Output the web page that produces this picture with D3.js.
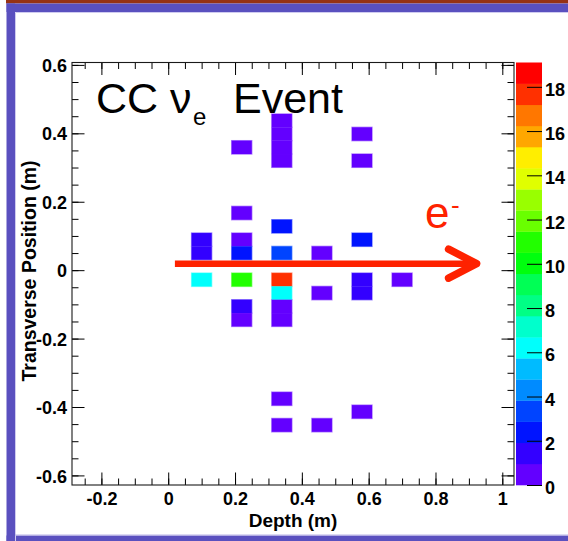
<!DOCTYPE html>
<html><head><meta charset="utf-8">
<script src="https://cdn.jsdelivr.net/npm/d3@7"></script>
<style>
body{margin:0;background:#fff}
svg{display:block}
text{font-family:"Liberation Sans",Arial,Helvetica,sans-serif}
</style>
</head><body>
<svg id="chart" width="568" height="541"></svg>
<script>
// ---- data ----
const depth      = [0.10, 0.10, 0.10,
                    0.22, 0.22, 0.22, 0.22, 0.22, 0.22, 0.22,
                    0.34, 0.34, 0.34, 0.34, 0.34, 0.34, 0.34, 0.34, 0.34, 0.34, 0.34, 0.34,
                    0.46, 0.46, 0.46,
                    0.58, 0.58, 0.58, 0.58, 0.58, 0.58,
                    0.70];
const transverse = [0.089, 0.050, -0.028,
                    0.359, 0.167, 0.089, 0.050, -0.028, -0.106, -0.145,
                    0.437, 0.398, 0.359, 0.320, 0.128, 0.050, -0.028, -0.067, -0.106, -0.145, -0.376, -0.453,
                    0.050, -0.067, -0.453,
                    0.398, 0.320, 0.089, -0.028, -0.067, -0.414,
                    -0.028];
const charge     = [1.5, 1.5, 6.2,
                    0.7, 0.7, 0.7, 2.4, 11.0, 1.5, 0.7,
                    0.7, 0.7, 0.7, 0.7, 2.4, 3.3, 17.9, 6.2, 0.7, 0.7, 0.7, 0.7,
                    0.7, 0.7, 0.7,
                    0.7, 0.7, 2.4, 1.5, 1.5, 0.7,
                    0.7];
const binWidth = 0.06;   // plane pitch (m)
const binHeight = 0.039; // strip pitch (m)

const xMajor = [-0.2, 0, 0.2, 0.4, 0.6, 0.8, 1];
const xLabels = ["-0.2", "0", "0.2", "0.4", "0.6", "0.8", "1"];
const yMajor = [-0.6, -0.4, -0.2, 0, 0.2, 0.4, 0.6];
const yLabels = ["-0.6", "-0.4", "-0.2", "0", "0.2", "0.4", "0.6"];
const zMajor = [0, 2, 4, 6, 8, 10, 12, 14, 16, 18];
const xMinor = d3.range(-25, 101, 5).map(v => v / 100);
const yMinor = d3.range(-60, 61, 5).map(v => v / 100);
const zMax = 19.1;
const nContours = 20;

// arrow annotation (data coords)
const arrowFrom = [0.02, 0.019];
const arrowTo   = [0.935, 0.019];

// ROOT "pretty" palette, 20 contours
const palette = ["#6300ff","#3300ff","#0014ff","#0044ff","#008bff","#00bbff","#00fffc","#00ffcc",
                 "#00ff85","#00ff55","#00ff0e","#22ff00","#69ff00","#99ff00","#e0ff00","#ffee00",
                 "#ffa700","#ff7700","#ff3000","#ff0000"];

const svg = d3.select("#chart");

// ---- page decoration ----
svg.append("rect").attr("x", 6).attr("y", 0).attr("width", 562).attr("height", 3.5).attr("fill", "#963214");
svg.append("rect").attr("x", 6.5).attr("y", 3.5).attr("width", 562).attr("height", 8.5).attr("fill", "#5a50bf");
svg.append("rect").attr("x", 6.5).attr("y", 3.5).attr("width", 8.5).attr("height", 538).attr("fill", "#5a50bf");
svg.append("rect").attr("x", 6.5).attr("y", 535.5).attr("width", 562).attr("height", 6).attr("fill", "#5a50bf");
svg.append("path").attr("d", "M15.5,541 V12.5 H568").attr("fill", "none").attr("stroke", "#cfcbf0").attr("stroke-width", 1);
svg.append("line").attr("x1", 15).attr("x2", 568).attr("y1", 535).attr("y2", 535).attr("stroke", "#b8b2e6").attr("stroke-width", 1);

// ---- scales ----
const L = 72, R = 514, T = 62.5, B = 485;
const x = d3.scaleLinear().domain([-0.288, 1.035]).range([L, R]);
const y = d3.scaleLinear().domain([-0.628, 0.607]).range([B, T]);
const z = d3.scaleLinear().domain([0, zMax]).range([B, T]);
const color = d3.scaleQuantize().domain([0, zMax]).range(palette);

const cells = depth.map((d, i) => ({x: d, y: transverse[i], v: charge[i]}));

// faint halo (as in the reference rendering)
svg.append("g").selectAll("rect").data(cells).join("rect")
  .attr("x", d => x(d.x - binWidth / 2) - 0.7)
  .attr("y", d => y(d.y + binHeight / 2) - 0.7)
  .attr("width", d => x(d.x + binWidth / 2) - x(d.x - binWidth / 2) + 1.4)
  .attr("height", d => y(d.y - binHeight / 2) - y(d.y + binHeight / 2) + 1.4)
  .attr("fill", d => d3.interpolateRgb(color(d.v), "#ffffff")(0.5));

svg.append("g").selectAll("rect").data(cells).join("rect")
  .attr("x", d => x(d.x - binWidth / 2))
  .attr("y", d => y(d.y + binHeight / 2))
  .attr("width", d => x(d.x + binWidth / 2) - x(d.x - binWidth / 2))
  .attr("height", d => y(d.y - binHeight / 2) - y(d.y + binHeight / 2))
  .attr("fill", d => color(d.v));

// ---- axes ----
const major = 12.5, minor = 6.5;
const xFmt = d => xLabels[xMajor.indexOf(d)];
const yFmt = d => yLabels[yMajor.indexOf(d)];

function styleAxis(g) {
  g.select(".domain").remove();
  g.selectAll("line").attr("stroke", "#000");
  g.selectAll("text").attr("font-size", 18).attr("font-weight", "bold")
    .attr("fill", "#000").attr("font-family", '"Liberation Sans",Arial,sans-serif');
}

// bottom
svg.append("g").attr("transform", `translate(0,${B})`)
  .call(d3.axisBottom(x).tickValues(xMinor).tickSize(-minor).tickFormat(""))
  .call(styleAxis);
svg.append("g").attr("transform", `translate(0,${B})`)
  .call(d3.axisBottom(x).tickValues(xMajor).tickSize(-major).tickPadding(7).tickFormat(xFmt))
  .call(styleAxis);
// top
svg.append("g").attr("transform", `translate(0,${T})`)
  .call(d3.axisTop(x).tickValues(xMinor).tickSize(-minor).tickFormat(""))
  .call(styleAxis);
svg.append("g").attr("transform", `translate(0,${T})`)
  .call(d3.axisTop(x).tickValues(xMajor).tickSize(-major).tickFormat(""))
  .call(styleAxis);
// left
svg.append("g").attr("transform", `translate(${L},0)`)
  .call(d3.axisLeft(y).tickValues(yMinor).tickSize(-minor).tickFormat(""))
  .call(styleAxis);
svg.append("g").attr("transform", `translate(${L},0)`)
  .call(d3.axisLeft(y).tickValues(yMajor).tickSize(-major).tickPadding(5).tickFormat(yFmt))
  .call(styleAxis)
  .call(g => g.selectAll("text").attr("dy", "0.37em"));
// right
svg.append("g").attr("transform", `translate(${R},0)`)
  .call(d3.axisRight(y).tickValues(yMinor).tickSize(-minor).tickFormat(""))
  .call(styleAxis);
svg.append("g").attr("transform", `translate(${R},0)`)
  .call(d3.axisRight(y).tickValues(yMajor).tickSize(-major).tickFormat(""))
  .call(styleAxis);

// frame
svg.append("rect").attr("x", L).attr("y", T).attr("width", R - L).attr("height", B - T)
  .attr("fill", "none").attr("stroke", "#1a1a1a").attr("stroke-width", 1.1);

// ---- colour bar ----
const CB0 = 516, CB1 = 542;
const bands = d3.range(nContours).map(k => ({lo: k * zMax / nContours, hi: (k + 1) * zMax / nContours, c: palette[k]}));
svg.append("g").selectAll("rect").data(bands).join("rect")
  .attr("x", CB0).attr("width", CB1 - CB0)
  .attr("y", d => z(d.hi)).attr("height", d => z(d.lo) - z(d.hi) + 0.3)
  .attr("fill", d => d.c);
svg.append("g").attr("transform", `translate(${CB1},0)`)
  .call(d3.axisRight(z).tickValues(zMajor).tickSize(-15).tickPadding(3).tickFormat(d => String(d)))
  .call(styleAxis)
  .call(g => g.selectAll("text").attr("dy", "0.48em"));

// ---- axis titles ----
svg.append("text").attr("x", (L + R) / 2).attr("y", 526.5).attr("text-anchor", "middle")
  .attr("font-size", 19).attr("font-weight", "bold")
  .text("Depth (m)");
svg.append("text").attr("transform", "translate(36,271) rotate(-90)").attr("text-anchor", "middle")
  .attr("font-size", 19.5).attr("font-weight", "bold")
  .text("Transverse Position (m)");

// ---- title ----
svg.append("text").attr("x", 96).attr("y", 113).attr("font-size", 43).attr("fill", "#000").text("CC ν");
svg.append("text").attr("x", 193).attr("y", 125).attr("font-size", 24).attr("fill", "#000").text("e");
svg.append("text").attr("x", 233).attr("y", 113).attr("font-size", 43).attr("fill", "#000").text("Event");

// ---- electron arrow ----
const red = "#fe2200";
const ax0 = x(arrowFrom[0]), ay = y(arrowFrom[1]), ax1 = x(arrowTo[0]);
svg.append("line").attr("x1", ax0).attr("x2", ax1 - 5).attr("y1", ay).attr("y2", ay)
  .attr("stroke", red).attr("stroke-width", 6.5);
svg.append("path")
  .attr("d", `M${ax1 - 32},${ay - 14.5} L${ax1 - 4},${ay} L${ax1 - 32},${ay + 14.5}`)
  .attr("fill", "none").attr("stroke", red).attr("stroke-width", 7.5)
  .attr("stroke-linecap", "round").attr("stroke-linejoin", "round");
svg.append("text").attr("x", 425).attr("y", 228).attr("font-size", 44).attr("fill", red).text("e");
svg.append("text").attr("x", 451).attr("y", 214).attr("font-size", 26).attr("fill", red).text("-");
</script>
</body></html>
